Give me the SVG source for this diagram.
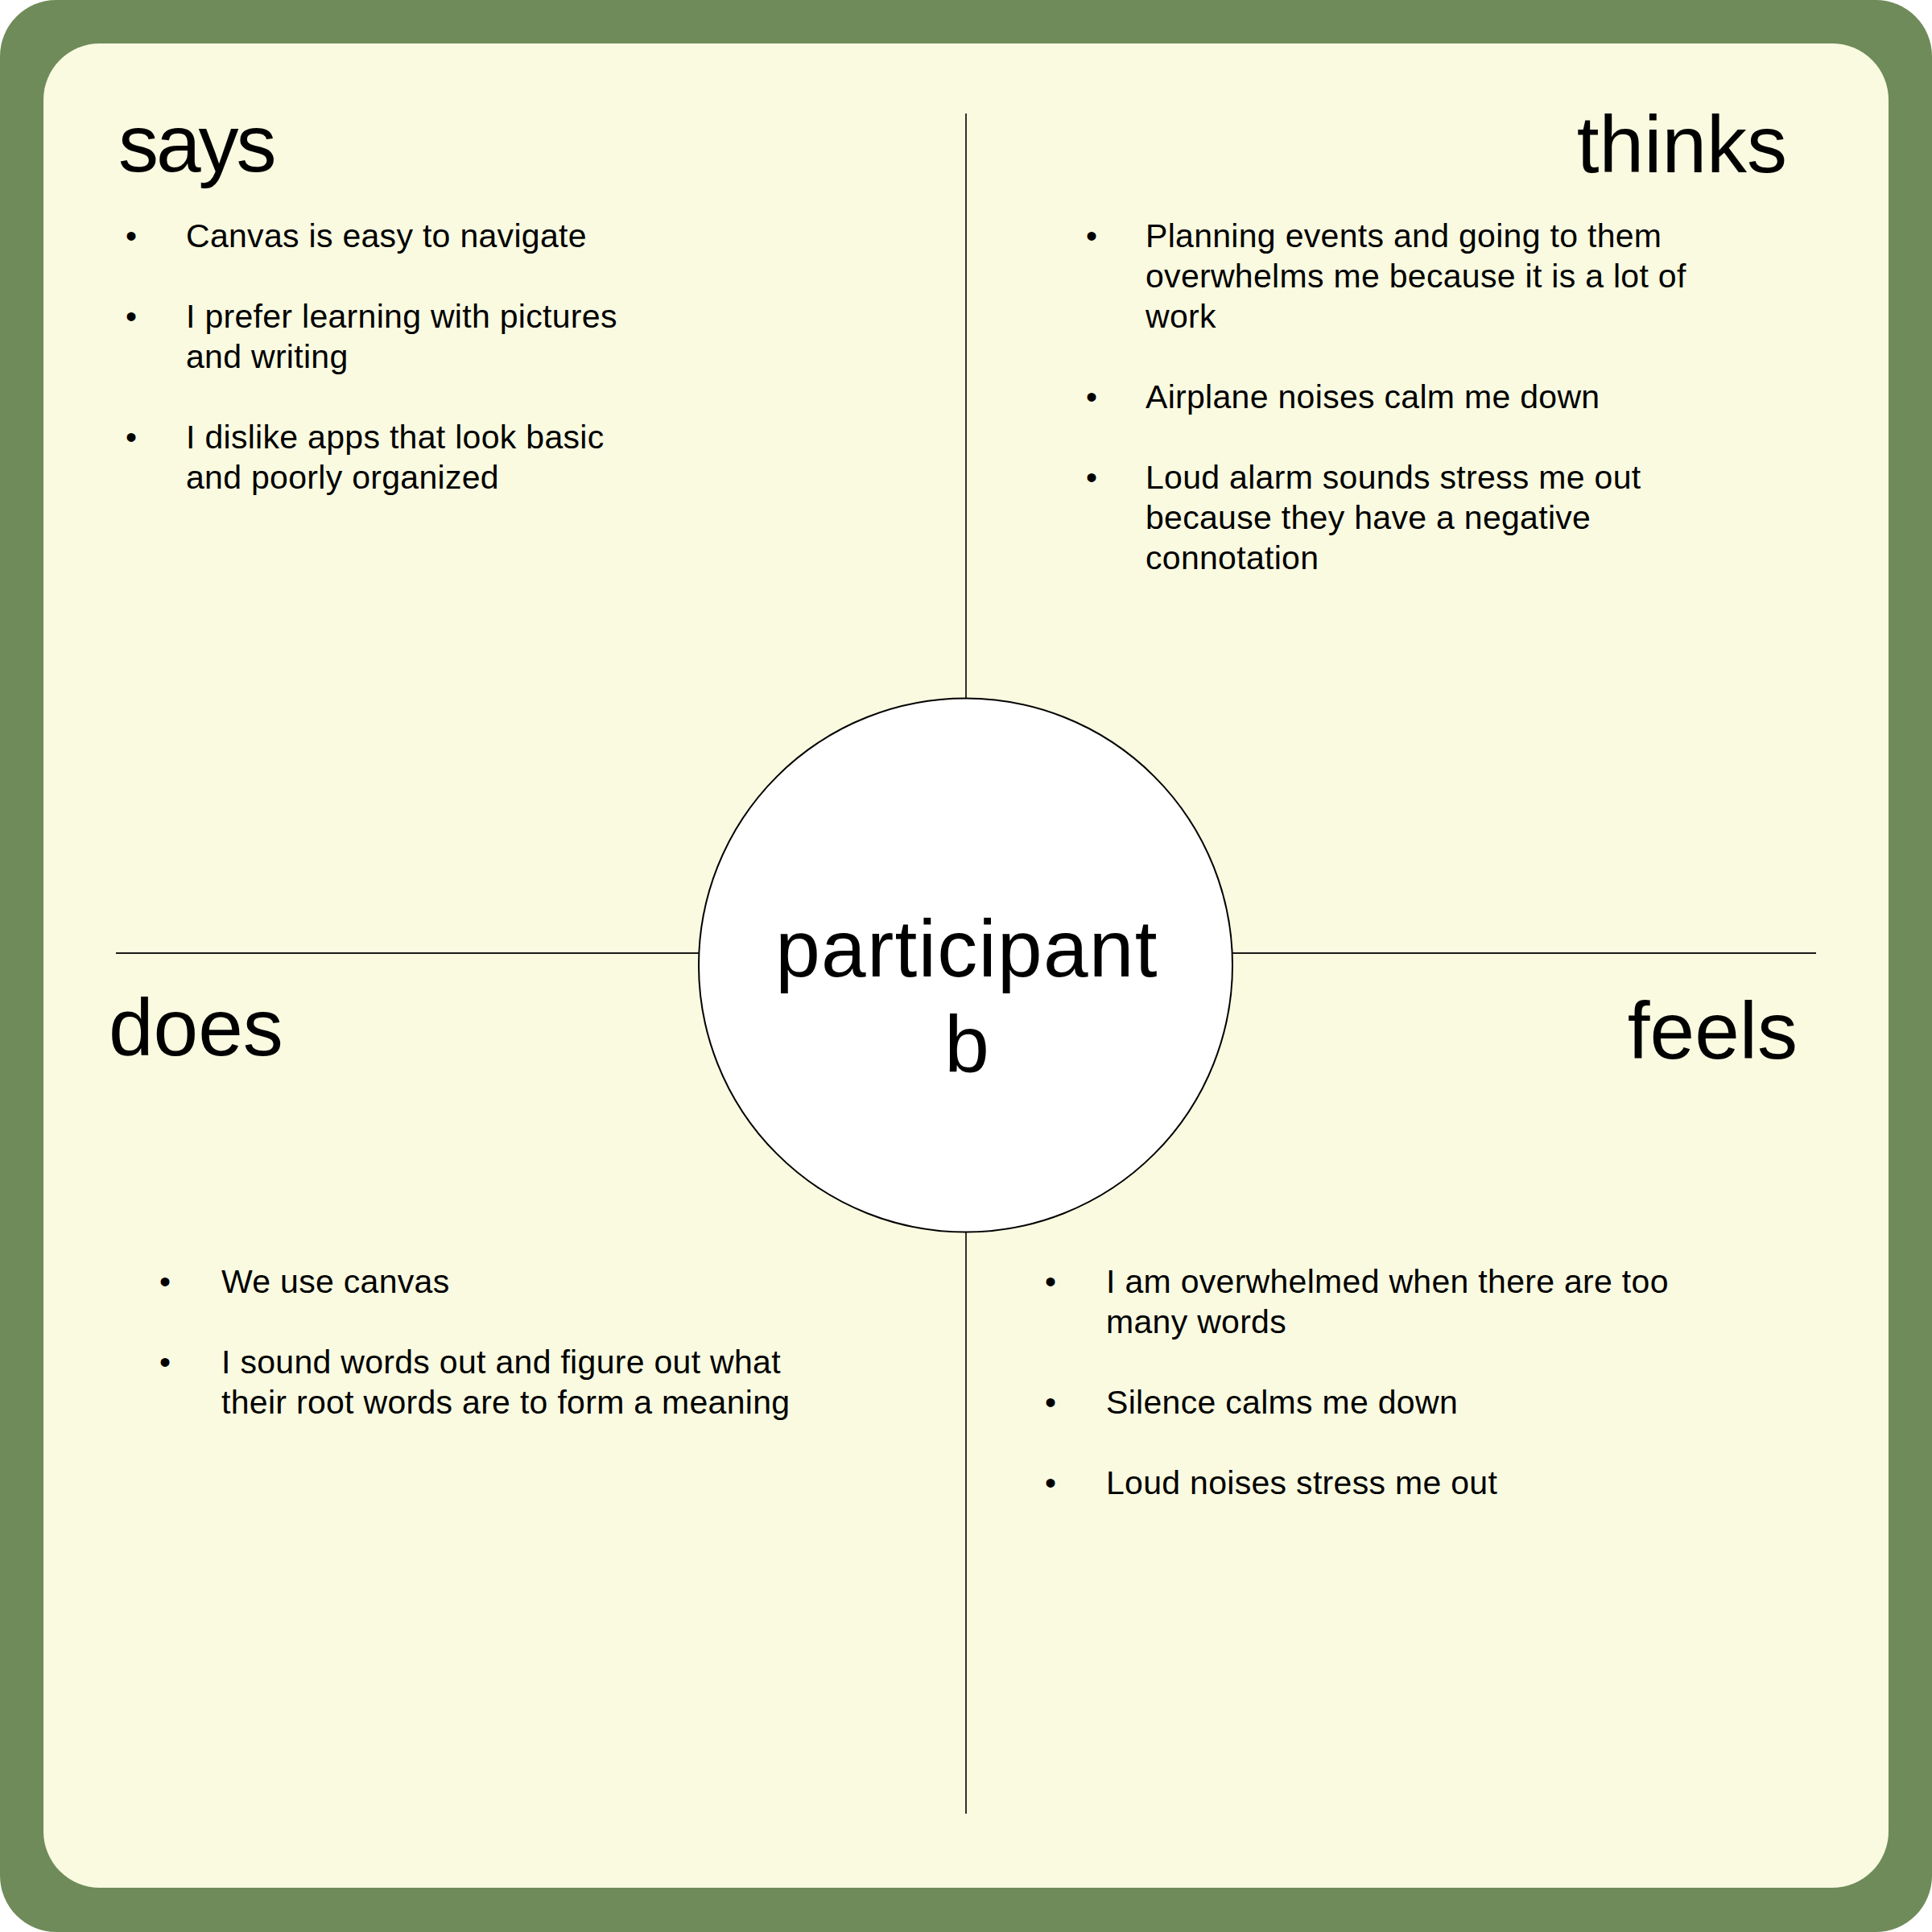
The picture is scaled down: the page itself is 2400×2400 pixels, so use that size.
<svg xmlns="http://www.w3.org/2000/svg" width="2400" height="2400" viewBox="0 0 2400 2400">
  <style>
    .hdr { font-family: "Liberation Sans", Arial, sans-serif; font-size: 100px; fill: #000; }
    .body { font-family: "Liberation Sans", Arial, sans-serif; font-size: 41px; letter-spacing: 0.3px; fill: #000; }
    .bul { font-family: "Liberation Sans", Arial, sans-serif; font-size: 40px; fill: #000; text-anchor: middle; }
    .line { stroke: #1a1a1a; stroke-width: 1.8; fill: none; }
  </style>
  <rect x="0" y="0" width="2400" height="2400" fill="#ffffff"/>
  <rect id="frame" x="0" y="0" width="2400" height="2400" rx="70" ry="70" fill="#6F8B5A"/>
  <rect id="board" x="54" y="54" width="2292" height="2291" rx="70" ry="70" fill="#F9FAE0"/>

  <g id="connectors">
    <line class="line" x1="1200" y1="141" x2="1200" y2="868"/>
    <line class="line" x1="1200" y1="1530" x2="1200" y2="2253"/>
    <line class="line" x1="144" y1="1184" x2="868" y2="1184"/>
    <line class="line" x1="1531" y1="1184" x2="2256" y2="1184"/>
  </g>

  <g id="center">
    <circle cx="1199.5" cy="1199" r="331.5" fill="#ffffff" stroke="#000" stroke-width="2"/>
    <text class="hdr" x="1201" y="1213" text-anchor="middle" letter-spacing="1.3">participant</text>
    <text class="hdr" x="1201" y="1332" text-anchor="middle">b</text>
  </g>

  <g id="says">
    <text class="hdr" x="147" y="213" letter-spacing="-3">says</text>
    <text class="bul" x="163" y="307">•</text>
    <text class="body" x="231" y="307">Canvas is easy to navigate</text>
    <text class="bul" x="163" y="407">•</text>
    <text class="body" x="231" y="407">I prefer learning with pictures</text>
    <text class="body" x="231" y="457">and writing</text>
    <text class="bul" x="163" y="557">•</text>
    <text class="body" x="231" y="557">I dislike apps that look basic</text>
    <text class="body" x="231" y="607">and poorly organized</text>
  </g>

  <g id="thinks">
    <text class="hdr" x="2220" y="214" text-anchor="end">thinks</text>
    <text class="bul" x="1356" y="307">•</text>
    <text class="body" x="1423" y="307">Planning events and going to them</text>
    <text class="body" x="1423" y="357">overwhelms me because it is a lot of</text>
    <text class="body" x="1423" y="407">work</text>
    <text class="bul" x="1356" y="507">•</text>
    <text class="body" x="1423" y="507">Airplane noises calm me down</text>
    <text class="bul" x="1356" y="607">•</text>
    <text class="body" x="1423" y="607">Loud alarm sounds stress me out</text>
    <text class="body" x="1423" y="657">because they have a negative</text>
    <text class="body" x="1423" y="707">connotation</text>
  </g>

  <g id="does">
    <text class="hdr" x="135" y="1311">does</text>
    <text class="bul" x="205" y="1606">•</text>
    <text class="body" x="275" y="1606">We use canvas</text>
    <text class="bul" x="205" y="1706">•</text>
    <text class="body" x="275" y="1706">I sound words out and figure out what</text>
    <text class="body" x="275" y="1756">their root words are to form a meaning</text>
  </g>

  <g id="feels">
    <text class="hdr" x="2233" y="1315" text-anchor="end">feels</text>
    <text class="bul" x="1305" y="1606">•</text>
    <text class="body" x="1374" y="1606">I am overwhelmed when there are too</text>
    <text class="body" x="1374" y="1656">many words</text>
    <text class="bul" x="1305" y="1756">•</text>
    <text class="body" x="1374" y="1756">Silence calms me down</text>
    <text class="bul" x="1305" y="1856">•</text>
    <text class="body" x="1374" y="1856">Loud noises stress me out</text>
  </g>
</svg>
